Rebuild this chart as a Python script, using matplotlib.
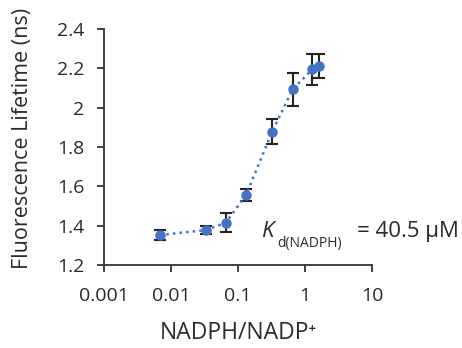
import matplotlib
matplotlib.use("Agg")
import matplotlib.pyplot as plt
from matplotlib.ticker import FixedLocator, FixedFormatter, NullLocator

ratio = [0.0068, 0.0333, 0.066, 0.132, 0.325, 0.655, 1.29, 1.62]
lifetime = [1.352, 1.378, 1.415, 1.556, 1.878, 2.093, 2.195, 2.213]
err = [0.025, 0.022, 0.047, 0.031, 0.064, 0.085, 0.079, 0.062]
xticks = [0.001, 0.01, 0.1, 1, 10]
xticklabels = ["0.001", "0.01", "0.1", "1", "10"]
yticks = [1.2, 1.4, 1.6, 1.8, 2.0, 2.2, 2.4]
yticklabels = ["1.2", "1.4", "1.6", "1.8", "2", "2.2", "2.4"]

plt.rcParams['font.family'] = ['Open Sans', 'DejaVu Sans']

fig = plt.figure(figsize=(4.62, 3.48), dpi=100)
ax = fig.add_axes([0.225, 0.2385, 0.58, 0.678])
blue = '#4472C4'
tc = '#2a2a2a'
ax.errorbar(ratio, lifetime, yerr=err, fmt='none', ecolor='#222222',
            elinewidth=1.5, capsize=4.5, capthick=1.5, zorder=2)
ax.plot(ratio, lifetime, linestyle=':', color=blue, linewidth=1.8,
        marker='o', markersize=6.5, markerfacecolor=blue,
        markeredgecolor=blue, zorder=3)

ax.set_xscale('log')
ax.set_xlim(0.001, 10)
ax.set_ylim(1.2, 2.4)
ax.xaxis.set_major_locator(FixedLocator(xticks))
ax.xaxis.set_major_formatter(FixedFormatter(xticklabels))
ax.xaxis.set_minor_locator(NullLocator())
ax.yaxis.set_major_locator(FixedLocator(yticks))
ax.yaxis.set_major_formatter(FixedFormatter(yticklabels))

for s in ['top', 'right']:
    ax.spines[s].set_visible(False)
for s in ['left', 'bottom']:
    ax.spines[s].set_linewidth(1.3)
    ax.spines[s].set_color('#333333')
ax.tick_params(direction='out', length=5, width=1.3, color='#333333',
               labelsize=14, labelcolor=tc)
ax.tick_params(axis='y', pad=9)
ax.tick_params(axis='x', pad=11)

ax.set_xlabel('NADPH/NADP\u207a', fontsize=16.5, color=tc, labelpad=11)
ax.set_ylabel('Fluorescence Lifetime (ns)', fontsize=15.5, color=tc)
ax.yaxis.set_label_coords(-0.265, 0.535)

fig.text(0.566, 0.319, 'K', fontsize=16, color=tc, fontstyle='italic',
         ha='left', va='baseline')
fig.text(0.600, 0.290, 'd(NADPH)', fontsize=10, color=tc, ha='left', va='baseline')
fig.text(0.773, 0.319, '= 40.5 \u00b5M', fontsize=16, color=tc, ha='left', va='baseline')

fig.savefig('out.png', dpi=100)
